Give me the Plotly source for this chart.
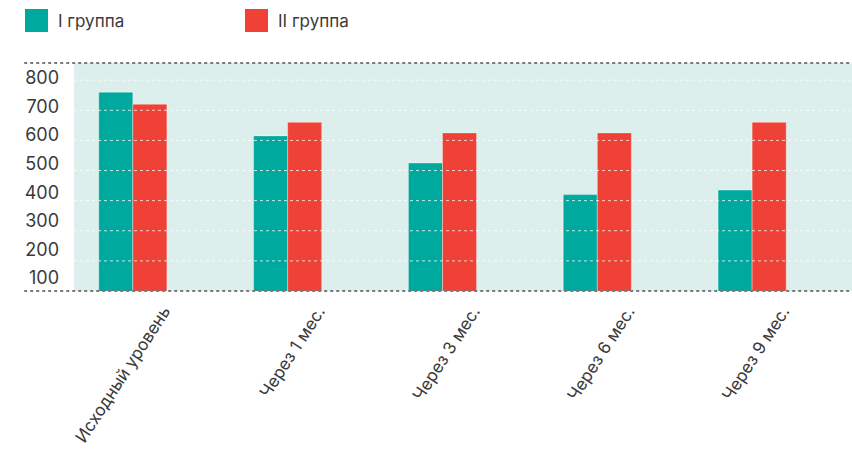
import plotly.graph_objects as go

categories = ["Исходный уровень", "Через 1 мес.", "Через 3 мес.", "Через 6 мес.", "Через 9 мес."]
group1 = [760, 615, 525, 420, 435]
group2 = [720, 660, 625, 625, 660]
series_names = ["I группа", "II группа"]
colors = ["#00a99d", "#ef4136"]
y_ticks = [100, 200, 300, 400, 500, 600, 700, 800]

FONT = "Inter"
TXT = "#3a3a3a"

fig = go.Figure()
for name, vals, col in zip(series_names, [group1, group2], colors):
    fig.add_trace(go.Bar(
        x=categories, y=vals, name=name, marker_color=col,
        marker_line=dict(color="rgba(255,255,255,0.35)", width=1),
        showlegend=False,
    ))
# invisible trace so the label axis is drawn
fig.add_trace(go.Scatter(x=[categories[0]], y=[y_ticks[0]], yaxis="y2", mode="markers",
                         marker=dict(opacity=0), showlegend=False, hoverinfo="skip"))

shapes = []
# white dotted gridlines above bars
for t in y_ticks[1:]:
    shapes.append(dict(type="line", xref="paper", yref="y", x0=0, x1=1, y0=t, y1=t,
                       line=dict(color="rgba(255,255,255,0.75)", width=1, dash="dot"), layer="above"))
# dark dotted top and bottom lines
for yv in [0, 1]:
    shapes.append(dict(type="line", xref="paper", yref="paper", x0=-0.064, x1=1, y0=yv, y1=yv,
                       line=dict(color="#7a7a7a", width=2, dash="dot"), layer="above"))
# legend squares
leg_x = [25, 245]
annotations = []
for i, (name, col) in enumerate(zip(series_names, colors)):
    x0 = (leg_x[i] - 74) / 778
    x1 = (leg_x[i] + 23 - 74) / 778
    shapes.append(dict(type="rect", xref="paper", yref="paper", x0=x0, x1=x1,
                       y0=1 + (63 - 32) / 228, y1=1 + (63 - 9) / 228,
                       fillcolor=col, line=dict(width=0)))
    annotations.append(dict(xref="paper", yref="paper", x=(leg_x[i] + 31 - 74) / 778,
                            y=1 + (63 - 21) / 228, text=name, showarrow=False,
                            xanchor="left", yanchor="middle",
                            font=dict(family=FONT, size=17, color=TXT)))

fig.update_layout(
    width=852, height=449,
    margin=dict(l=74, r=0, t=63, b=158),
    paper_bgcolor="white", plot_bgcolor="#ddefec",
    barmode="group", bargap=0.56, bargroupgap=0,
    shapes=shapes, annotations=annotations,
    font=dict(family=FONT, color=TXT),
    xaxis=dict(range=[-0.38, 4.645], showgrid=False, zeroline=False, showline=False,
               tickangle=-57, tickfont=dict(size=17, color=TXT, family=FONT),
               ticklabelshift=31, ticklabelstandoff=6),
    yaxis=dict(range=[100, 857], showticklabels=False, showgrid=False, zeroline=False,
               showline=False),
    yaxis2=dict(overlaying="y", side="left", range=[54.5, 852.5], tickvals=y_ticks,
                showgrid=False, zeroline=False, showline=False,
                tickfont=dict(size=18, color=TXT, family=FONT), ticklabelstandoff=14),
)

fig.write_html("out.html")
